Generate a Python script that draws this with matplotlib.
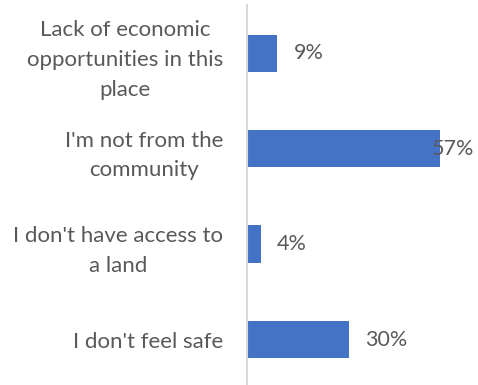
import matplotlib.pyplot as plt

# Chart data (top to bottom)
categories = [
    "Lack of economic\nopportunities in this\nplace",
    "I'm not from the\ncommunity",
    "I don't have access to\na land",
    "I don't feel safe",
]
values = [9, 57, 4, 30]

bar_color = "#4472C4"
text_color = "#595959"

plt.rcParams["font.family"] = ["Lato", "DejaVu Sans"]

fig = plt.figure(figsize=(4.78, 3.85), dpi=100)
ax = fig.add_axes([0.5167, -0.006, 0.425, 0.992])

pos = list(range(len(categories)))
ax.barh(pos, values, height=0.39, color=bar_color)

ax.set_xlim(0, 60)
ax.set_ylim(3.5, -0.5)

ax.set_yticks(pos)
ax.set_yticklabels(categories, fontsize=16, color=text_color,
                   multialignment="center", linespacing=1.6)
ax.tick_params(axis="y", length=0, pad=17)
ax.set_xticks([])

for side in ["top", "right", "bottom"]:
    ax.spines[side].set_visible(False)
ax.spines["left"].set_color("#D9D9D9")
ax.spines["left"].set_linewidth(1.5)

# value labels: outside the bar end, the largest one pulled back inside the frame
for i, v in enumerate(values):
    dx = -6 if v == max(values) else 12
    ax.annotate(f"{v}%", xy=(v, i), xytext=(dx, 0), textcoords="offset points",
                ha="left", va="center", fontsize=15.5, color=text_color,
                annotation_clip=False)

fig.savefig("out.png", dpi=100)
